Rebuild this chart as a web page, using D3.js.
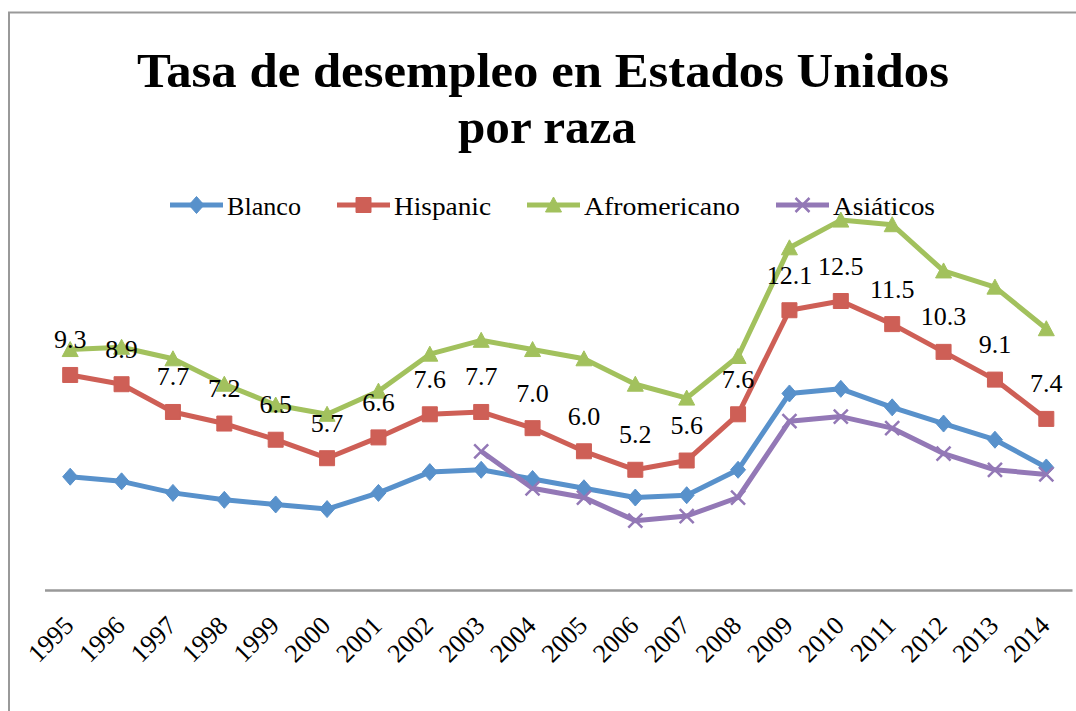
<!DOCTYPE html>
<html><head><meta charset="utf-8">
<script src="https://cdn.jsdelivr.net/npm/d3@7"></script>
<style>body{margin:0;background:#fff;overflow:hidden}</style>
</head><body><svg id="c" width="1076" height="711"></svg>
<script>
const years = [1995,1996,1997,1998,1999,2000,2001,2002,2003,2004,2005,2006,2007,2008,2009,2010,2011,2012,2013,2014];
const blanco = [4.9,4.7,4.2,3.9,3.7,3.5,4.2,5.1,5.2,4.8,4.4,4.0,4.1,5.2,8.5,8.7,7.9,7.2,6.5,5.3];
const hispanic = [9.3,8.9,7.7,7.2,6.5,5.7,6.6,7.6,7.7,7.0,6.0,5.2,5.6,7.6,12.1,12.5,11.5,10.3,9.1,7.4];
const afromericano = [10.4,10.5,10.0,8.9,8.0,7.6,8.6,10.2,10.8,10.4,10.0,8.9,8.3,10.1,14.8,16.0,15.8,13.8,13.1,11.3];
const asiaticos = [null,null,null,null,null,null,null,null,6.0,4.4,4.0,3.0,3.2,4.0,7.3,7.5,7.0,5.9,5.2,5.0];
const seriesNames = ["Blanco","Hispanic","Afromericano","Asiáticos"];
const titleLines = ["Tasa de desempleo en Estados Unidos","por raza"];

const colors = ["#5891CB","#CE5F56","#A2C15D","#9378B6"];
const shapes = ["diamond","square","triangle","x"];
const seriesData = [blanco, hispanic, afromericano, asiaticos];

const svg = d3.select("#c");
const FONT = "'Liberation Serif', 'Times New Roman', serif";

// frame
svg.append("rect").attr("x",9).attr("y",12.5).attr("width",1200).attr("height",800)
  .attr("fill","#fff").attr("stroke","#999").attr("stroke-width",2);

// title
const tW = [812, 178];
titleLines.forEach((t,i)=>{
  svg.append("text").attr("x", i===0?543:547).attr("y", i===0?87:143)
    .attr("text-anchor","middle").attr("font-family",FONT).attr("font-weight","bold")
    .attr("font-size",48).attr("fill","#000")
    .attr("textLength",tW[i]).attr("lengthAdjust","spacingAndGlyphs").text(t);
});

const xb = d3.scaleBand().domain(years).range([44.5,1072]);
const xc = d => xb(d) + xb.bandwidth()/2;
const y = d3.scaleLinear().domain([0,18]).range([590, 590-18*23.12]);

function markerPath(shape){
  switch(shape){
    case "diamond": return "M0,-8.5L7.5,0L0,8.5L-7.5,0Z";
    case "square": return "M-7.5,-7.5H7.5V7.5H-7.5Z";
    case "triangle": return "M0,-8L8,7L-8,7Z";
    case "x": return "M-7,-7L7,7M-7,7L7,-7";
  }
}
function drawMarker(g, shape, color){
  const p = g.append("path").attr("d", markerPath(shape));
  if(shape==="x") p.attr("fill","none").attr("stroke",color).attr("stroke-width",2.5);
  else p.attr("fill",color).attr("stroke",color).attr("stroke-width",1);
}

// axis
const axis = d3.axisBottom(xb).tickSize(0).tickSizeOuter(0);
const ag = svg.append("g").attr("transform",`translate(0,${y(0)})`).call(axis);
ag.select(".domain").attr("stroke","#999").attr("stroke-width",2.5);
ag.selectAll(".tick text").attr("font-family",FONT).attr("font-size",26).attr("fill","#000")
  .attr("x",null).attr("y",null).attr("dy",null).attr("text-anchor","end")
  .attr("transform","translate(5,37) rotate(-45)");

// lines
const line = d3.line().defined(d=>d.v!=null).x(d=>xc(d.year)).y(d=>y(d.v));
seriesData.forEach((arr,si)=>{
  const pts = years.map((yr,i)=>({year:yr, v:arr[i]}));
  svg.append("path").datum(pts).attr("d",line).attr("fill","none")
    .attr("stroke",colors[si]).attr("stroke-width",5).attr("stroke-linejoin","round");
});
seriesData.forEach((arr,si)=>{
  years.forEach((yr,i)=>{
    if(arr[i]==null) return;
    const g = svg.append("g").attr("transform",`translate(${xc(yr)},${y(arr[i])})`);
    drawMarker(g, shapes[si], colors[si]);
  });
});

// data labels (Hispanic)
svg.append("g").selectAll("text").data(years).join("text")
  .attr("x",d=>xc(d)).attr("y",(d,i)=>y(hispanic[i])-26.5)
  .attr("text-anchor","middle").attr("font-family",FONT).attr("font-size",26).attr("fill","#000")
  .text((d,i)=>hispanic[i].toFixed(1));

// legend
const legendTextW = [74, 97, 156, 102];
const lg = svg.append("g");
let lx = 170;
seriesNames.forEach((n,si)=>{
  lg.append("line").attr("x1",lx).attr("x2",lx+53).attr("y1",205).attr("y2",205)
    .attr("stroke",colors[si]).attr("stroke-width",5);
  const mg = lg.append("g").attr("transform",`translate(${lx+26.5},205)`);
  drawMarker(mg, shapes[si], colors[si]);
  lg.append("text").attr("x",lx+57).attr("y",215).attr("font-family",FONT)
    .attr("font-size",26).attr("fill","#000")
    .attr("textLength",legendTextW[si]).attr("lengthAdjust","spacingAndGlyphs").text(n);
  lx = lx + 57 + legendTextW[si] + 36;
});
</script></body></html>
